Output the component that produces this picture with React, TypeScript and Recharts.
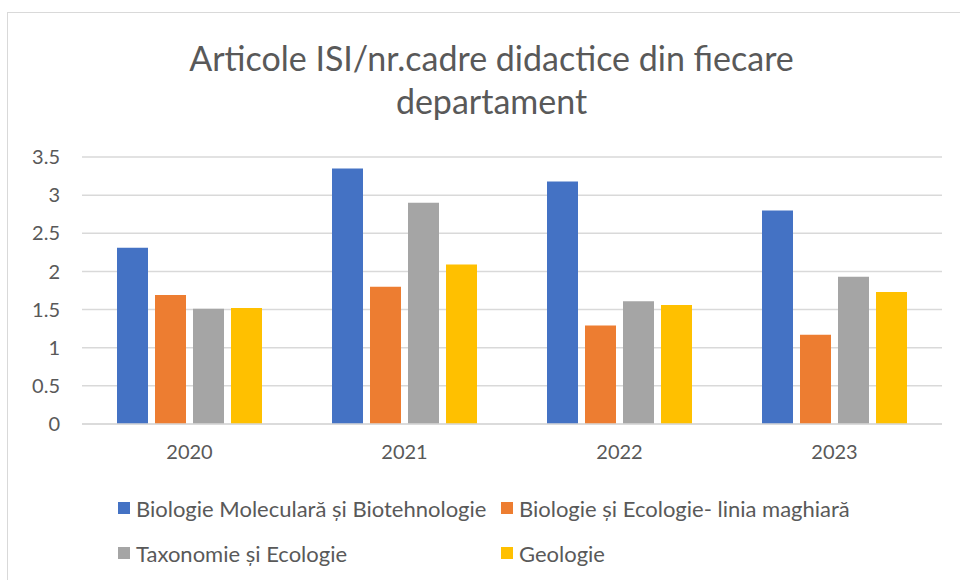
import React from 'react';
import { BarChart, Bar, XAxis, YAxis, CartesianGrid } from 'recharts';

const years = ['2020', '2021', '2022', '2023'];
const seriesNames = [
  'Biologie Moleculară și Biotehnologie',
  'Biologie și Ecologie- linia maghiară',
  'Taxonomie și Ecologie',
  'Geologie',
];
const biologieMoleculara = [2.31, 3.35, 3.18, 2.8];
const biologieMaghiara = [1.69, 1.8, 1.29, 1.17];
const taxonomie = [1.51, 2.9, 1.61, 1.93];
const geologie = [1.52, 2.09, 1.56, 1.73];
const yTicks = [0, 0.5, 1, 1.5, 2, 2.5, 3, 3.5];
const colors = ['#4472C4', '#ED7D31', '#A5A5A5', '#FFC000'];
const titleLines = ['Articole ISI/nr.cadre didactice din fiecare', 'departament'];

const keys = ['s0', 's1', 's2', 's3'];
const seriesValues = [biologieMoleculara, biologieMaghiara, taxonomie, geologie];
const data = years.map((y, i) => {
  const row: Record<string, string | number> = { year: y };
  keys.forEach((k, j) => {
    row[k] = seriesValues[j][i];
  });
  return row;
});

const FONT = 'Lato, "Liberation Sans", sans-serif';
const TEXT = '#595959';

export default function App() {
  return (
    <div style={{ position: 'relative', width: 960, height: 580, background: '#fff', fontFamily: FONT, overflow: 'hidden' }}>
      <style>{'body{margin:0;}'}</style>
      <div
        style={{
          position: 'absolute',
          left: 7,
          top: 12,
          width: 980,
          height: 600,
          border: '1.5px solid #d9d9d9',
          boxSizing: 'border-box',
        }}
      />
      <div
        style={{
          position: 'absolute',
          left: 0,
          top: 36,
          width: 983,
          textAlign: 'center',
          color: TEXT,
          fontSize: 34,
          lineHeight: '43px',
        }}
      >
        {titleLines.map((t) => (
          <div key={t}>{t}</div>
        ))}
      </div>
      <div style={{ position: 'absolute', left: 0, top: 0 }}>
        <BarChart
          width={960}
          height={580}
          data={data}
          margin={{ top: 157, right: 18, bottom: 126, left: 0 }}
          barSize={31}
          barGap={7}
        >
          <CartesianGrid horizontal vertical={false} stroke="#d9d9d9" strokeWidth={1.5} />
          <XAxis
            dataKey="year"
            height={30}
            axisLine={{ stroke: '#d9d9d9', strokeWidth: 1.5 }}
            tickLine={false}
            tickMargin={15}
            tick={{ fill: TEXT, fontSize: 20, fontFamily: FONT }}
          />
          <YAxis
            width={82}
            domain={[0, 3.5]}
            ticks={yTicks}
            axisLine={false}
            tickLine={false}
            tickMargin={16}
            tick={{ fill: TEXT, fontSize: 20, fontFamily: FONT }}
          />
          {keys.map((k, j) => (
            <Bar key={k} dataKey={k} name={seriesNames[j]} fill={colors[j]} isAnimationActive={false} />
          ))}
        </BarChart>
      </div>
      {seriesNames.map((name, j) => {
        const col = j % 2;
        const row = Math.floor(j / 2);
        return (
          <div
            key={name}
            style={{
              position: 'absolute',
              left: col === 0 ? 118 : 501,
              top: 492 + row * 45,
              height: 32,
              display: 'flex',
              alignItems: 'center',
              color: TEXT,
              fontSize: 22,
              whiteSpace: 'nowrap',
            }}
          >
            <span style={{ display: 'inline-block', width: 12, height: 12, background: colors[j], marginRight: 6 }} />
            <span>{name}</span>
          </div>
        );
      })}
    </div>
  );
}
